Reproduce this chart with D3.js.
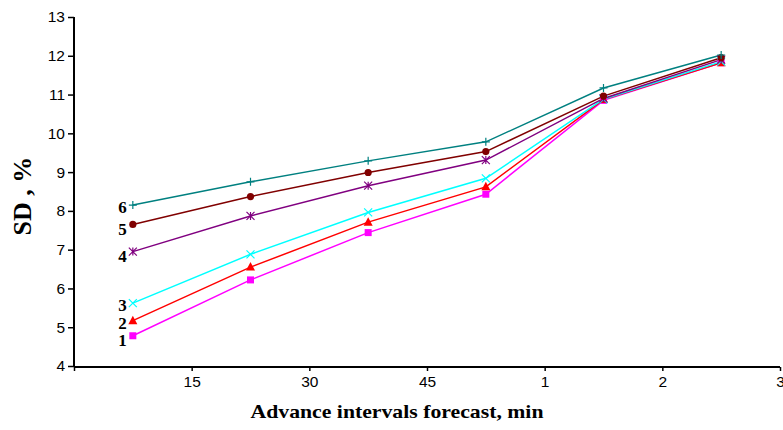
<!DOCTYPE html>
<html><head><meta charset="utf-8">
<script src="https://cdn.jsdelivr.net/npm/d3@7"></script>
<style>body{margin:0;background:#fff;} svg{display:block;}</style>
</head><body>
<svg id="c" width="783" height="430"></svg>
<script>
const categories = ["", "15", "30", "45", "1", "2", "3"];
const pointSlots = [0, 1, 2, 3, 4, 5];
const seriesNames = ["1", "2", "3", "4", "5", "6"];
const s1 = [4.78, 6.22, 7.44, 8.43, 10.85, 11.82];
const s2 = [5.17, 6.55, 7.71, 8.62, 10.87, 11.82];
const s3 = [5.62, 6.88, 7.96, 8.84, 10.88, 11.85];
const s4 = [6.95, 7.87, 8.65, 9.31, 10.90, 11.90];
const s5 = [7.65, 8.37, 8.99, 9.53, 10.96, 11.95];
const s6 = [8.15, 8.75, 9.29, 9.78, 11.17, 12.02];
const yTicks = [4, 5, 6, 7, 8, 9, 10, 11, 12, 13];
const colors = ["#ff00ff", "#ff0000", "#00ffff", "#800080", "#800000", "#008080"];
const markers = ["square", "triangle", "x", "star", "circle", "plus"];
const series = [s1, s2, s3, s4, s5, s6];

(function () {
const svg = d3.select("#c");
const mLeft = 74, mRight = 780, mTop = 17, mBottom = 367;
const x = d3.scaleLinear().domain([0, 6]).range([mLeft, mRight]);
const y = d3.scaleLinear().domain([4, 13]).range([mBottom - 1, mTop]);

const yAxis = d3.axisLeft(y).tickValues(yTicks).tickSize(6).tickPadding(3);
const gy = svg.append("g").attr("transform", `translate(${mLeft},0)`).call(yAxis);
gy.select(".domain").attr("stroke", "#000").attr("stroke-width", 2).attr("d", `M0,${y(13)}V${mBottom}`);
gy.selectAll(".tick line").attr("stroke", "#000").attr("stroke-width", 1.5);
gy.selectAll("text").attr("font-family", "Liberation Sans, Arial, sans-serif").attr("font-size", 15.5).attr("fill", "#000");

const xAxis = d3.axisBottom(x).tickValues([0, 1, 2, 3, 4, 5, 6]).tickFormat(i => categories[i]).tickSize(4).tickPadding(5);
const gx = svg.append("g").attr("transform", `translate(0,${mBottom})`).call(xAxis);
gx.select(".domain").attr("stroke", "#000").attr("stroke-width", 2).attr("d", `M${mLeft},0H${mRight}`);
gx.selectAll(".tick line").attr("stroke", "#000").attr("stroke-width", 1.5);
gx.selectAll("text").attr("font-family", "Liberation Sans, Arial, sans-serif").attr("font-size", 15.5).attr("fill", "#000");

svg.append("text").attr("transform", "translate(31,196) rotate(-90)")
  .attr("text-anchor", "middle").attr("font-family", "Liberation Serif, Times New Roman, serif")
  .attr("font-weight", "bold").attr("font-size", 26).text("SD , %");
svg.append("text").attr("x", 397).attr("y", 418).attr("text-anchor", "middle")
  .attr("font-family", "Liberation Serif, Times New Roman, serif").attr("font-weight", "bold")
  .attr("font-size", 19).attr("textLength", 293).attr("lengthAdjust", "spacingAndGlyphs")
  .text("Advance intervals forecast, min");

const line = d3.line().x((d, i) => x(pointSlots[i] + 0.5)).y(d => y(d));

function marker(g, type, color) {
  const s = 4;
  if (type === "square") g.append("rect").attr("x", -3.5).attr("y", -3.5).attr("width", 7).attr("height", 7).attr("fill", color);
  else if (type === "triangle") g.append("path").attr("d", "M0,-5L4.5,3.5H-4.5Z").attr("fill", color);
  else if (type === "circle") g.append("circle").attr("r", 3.6).attr("fill", color);
  else if (type === "x") g.append("path").attr("d", `M${-s},${-s}L${s},${s}M${-s},${s}L${s},${-s}`).attr("stroke", color).attr("stroke-width", 1.2);
  else if (type === "plus") g.append("path").attr("d", `M${-s},0H${s}M0,${-s}V${s}`).attr("stroke", color).attr("stroke-width", 1.2);
  else if (type === "star") g.append("path").attr("d", `M${-s},${-s}L${s},${s}M${-s},${s}L${s},${-s}M0,${-s}V${s}`).attr("stroke", color).attr("stroke-width", 1.2);
}

series.forEach((vals, k) => {
  svg.append("path").datum(vals).attr("d", line).attr("fill", "none")
    .attr("stroke", colors[k]).attr("stroke-width", 1.5);
});
series.forEach((vals, k) => {
  vals.forEach((v, i) => {
    const g = svg.append("g").attr("transform", `translate(${x(pointSlots[i] + 0.5)},${y(v)})`);
    marker(g, markers[k], colors[k]);
  });
});

const labelOffsets = [5, 2.5, 2, 5, 5, 2];
series.forEach((vals, k) => {
  svg.append("text").attr("x", x(0.5) - 6).attr("y", y(vals[0]) + labelOffsets[k] + 5.5)
    .attr("text-anchor", "end").attr("font-family", "Liberation Serif, Times New Roman, serif")
    .attr("font-weight", "bold").attr("font-size", 17).attr("fill", "#000").text(seriesNames[k]);
});
})();
</script>
</body></html>
